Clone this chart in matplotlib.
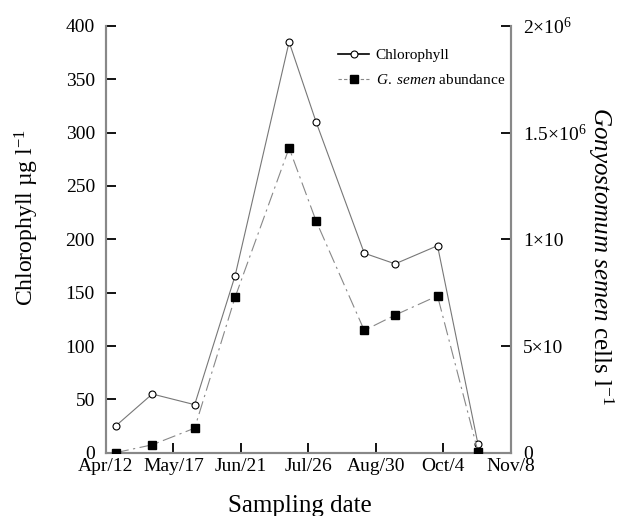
import numpy as np
import matplotlib
matplotlib.use("Agg")
import matplotlib.pyplot as plt

plt.rcParams['font.family'] = ['Liberation Serif', 'DejaVu Serif']
plt.rcParams['mathtext.fontset'] = 'custom'
plt.rcParams['mathtext.rm'] = 'Liberation Serif'
plt.rcParams['mathtext.it'] = 'Liberation Serif:italic'

sample_dates = ["2005-04-17", "2005-05-06", "2005-05-28", "2005-06-18", "2005-07-16",
                "2005-07-30", "2005-08-24", "2005-09-09", "2005-10-01", "2005-10-22"]
chlorophyll = [25, 55, 45, 166, 385, 310, 187, 177, 194, 8]
g_semen = [0, 37000, 115000, 729000, 1428000, 1086000, 573000, 645000, 735000, 5000]

x_tick_dates = ["2005-04-12", "2005-05-17", "2005-06-21", "2005-07-26",
                "2005-08-30", "2005-10-04", "2005-11-08"]
x_tick_labels = ["Apr/12", "May/17", "Jun/21", "Jul/26", "Aug/30", "Oct/4", "Nov/8"]
left_ticks = [0, 50, 100, 150, 200, 250, 300, 350, 400]
right_ticks = [0, 500000, 1000000, 1500000, 2000000]
right_tick_labels = ["0", "5×10", "1×10", r"1.5×10$^{6}$", r"2×10$^{6}$"]

dates = np.array(sample_dates, dtype="datetime64[D]")
tick_pos = np.array(x_tick_dates, dtype="datetime64[D]")

fig = plt.figure(figsize=(6.17, 5.16), dpi=100)
ax = fig.add_axes([0.1718, 0.1227, 0.656, 0.827])
ax2 = ax.twinx()

ax.plot(dates, chlorophyll, color="#777777", lw=0.8, marker="o", ms=5,
        mfc="white", mec="black", mew=0.8, zorder=3)
ax2.plot(dates, g_semen, color="#888888", lw=0.8, ls=(0, (12, 4, 2, 4)),
         marker="s", ms=6, mfc="black", mec="black", zorder=3)

ax.set_xlim(tick_pos[0], tick_pos[-1])
ax.set_xticks(tick_pos)
ax.set_xticklabels(x_tick_labels)
ax.set_ylim(0, 400)
ax.set_yticks(left_ticks)
ax2.set_ylim(0, 2000000)
ax2.set_yticks(right_ticks)
ax2.set_yticklabels(right_tick_labels)

for a in (ax, ax2):
    a.spines['top'].set_visible(False)
    for s in ('left', 'right', 'bottom'):
        a.spines[s].set_color("#888888")
        a.spines[s].set_linewidth(1.5)
    a.tick_params(direction="in", length=7, width=1.3, color="black", labelsize=14)
ax.tick_params(axis="y", pad=8)
ax.tick_params(axis="x", pad=4)
ax2.tick_params(axis="y", pad=9)

ax.set_xlabel("Sampling date", fontsize=18)
ax.xaxis.set_label_coords(0.479, -0.1)
ax.set_ylabel(r"Chlorophyll µg l$^{-1}$", fontsize=17, va="center")
ax.yaxis.set_label_coords(-0.196, 0.551)
ax2.set_ylabel(r"$Gonyostomum\ semen$ cells l$^{-1}$", fontsize=18, rotation=270,
               va="center")
ax2.yaxis.set_label_coords(1.222, 0.46)

h1 = plt.Line2D([], [], color="black", lw=1.2, marker="o", ms=5, mfc="white",
                mec="black", mew=0.8)
h2 = plt.Line2D([], [], color="#888888", lw=0.8, ls=(0, (3, 2)), marker="s", ms=6,
                mfc="black", mec="black")
ax2.legend([h1, h2], ["Chlorophyll", r"$G.\ semen$ abundance"], loc="upper left",
           bbox_to_anchor=(0.54, 0.98), frameon=False, fontsize=11,
           handlelength=2.0, handletextpad=0.45, labelspacing=0.75)

fig.savefig("out.png", dpi=100)
